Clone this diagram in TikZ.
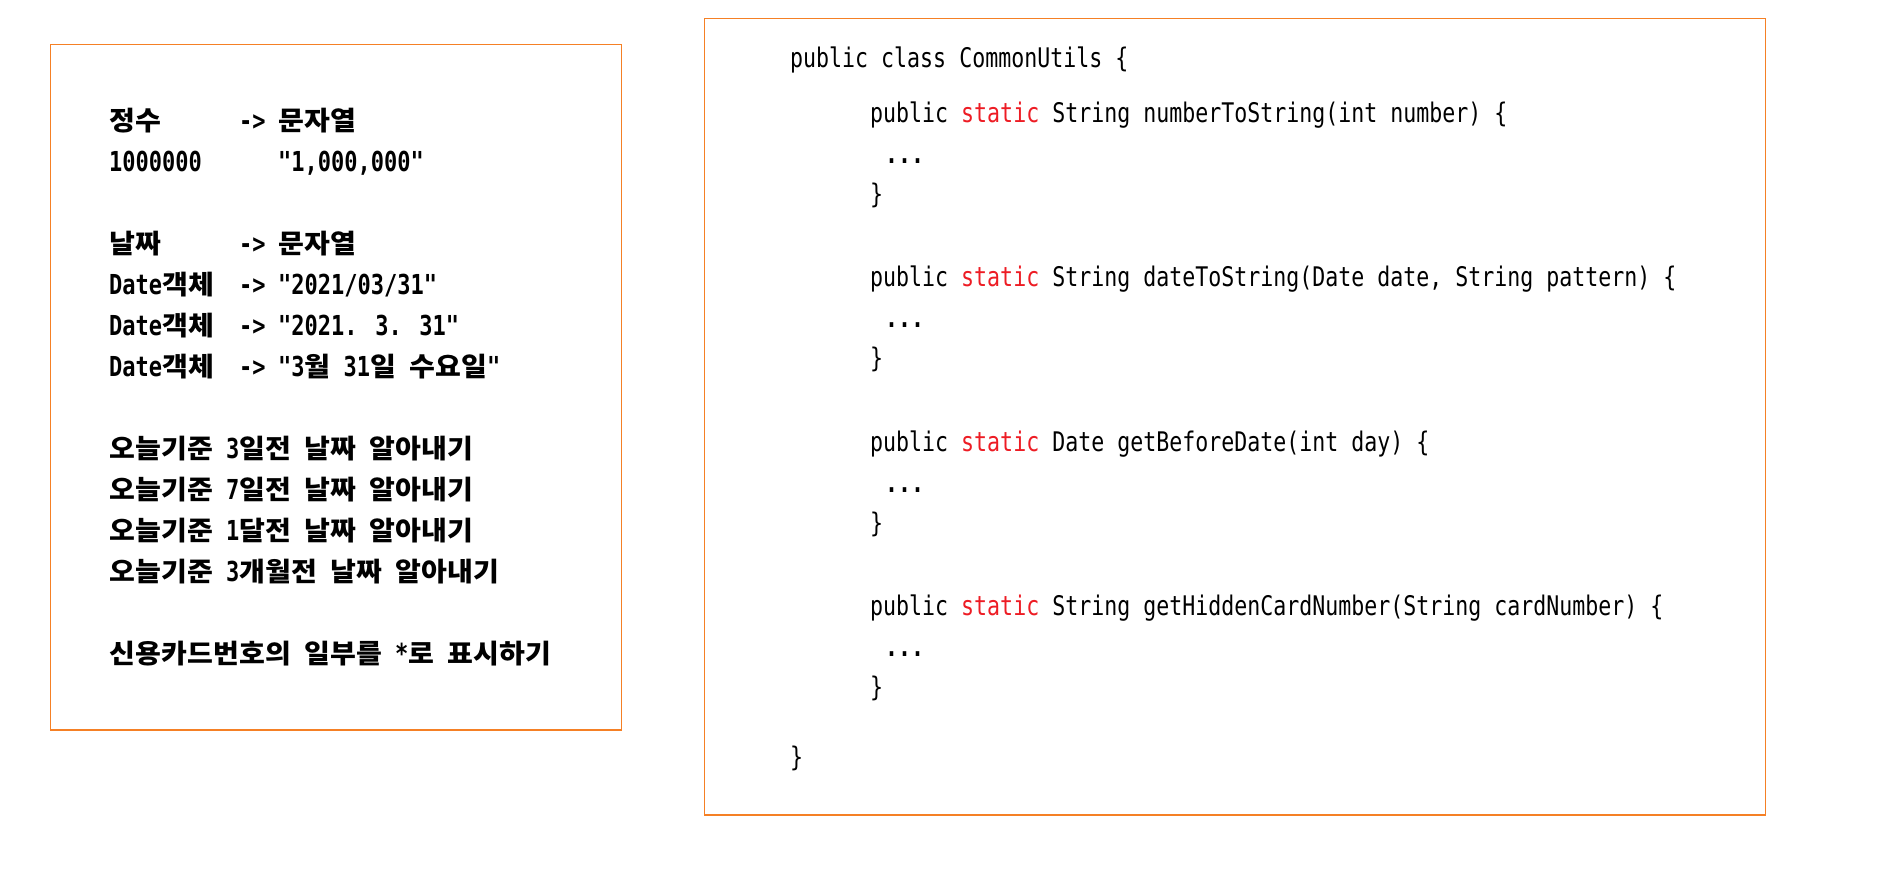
\documentclass[tikz,border=0pt]{standalone}
\usepackage{fontspec}
\usepackage{tikz}
\usetikzlibrary{positioning}

\newfontfamily\krfont[FakeStretch=1.06]{Noto Sans CJK KR}
\newfontfamily\codefont[FakeStretch=0.8]{DejaVu Sans Mono}
\definecolor{boxorange}{RGB}{245,128,37}
\definecolor{kwred}{RGB}{237,28,36}

% every hangul glyph takes two columns of the grid
\def\krloop#1{\ifx#1\relax\else\makebox[26pt][c]{#1}\expandafter\krloop\fi}
\newcommand{\kr}[1]{{\fontsize{26.5}{30}\selectfont\krfont\bfseries\krloop#1\relax}}
\newcommand{\gap}{\hspace*{13pt}}
\newcommand{\cola}[1]{\makebox[130pt][l]{#1}}
\newcommand{\colb}[1]{\makebox[39pt][l]{#1}}
\newcommand{\kw}[1]{\textcolor{kwred}{#1}}

\begin{document}
\begin{tikzpicture}[x=1pt,y=-1pt,
    frame/.style={draw=boxorange,line width=1.2pt},
    memo/.style={anchor=base west,inner sep=0pt,
      font=\fontsize{27.5}{30}\selectfont\codefont\bfseries},
    code/.style={anchor=base west,inner sep=0pt,
      font=\fontsize{27}{30}\selectfont\codefont}]

  \useasboundingbox (0,0) rectangle (1898,868);

  % left box
  \draw[frame] (50.5,44.5) rectangle (621.5,730);

  \node[memo] (intRow)  at (109,130) {\cola{\kr{정수}}\colb{->}\kr{문자열}};
  \node[memo] (intVal)  at (109,171) {\cola{1000000}\colb{}"1,000,000"};
  \node[memo] (dateRow) at (109,253) {\cola{\kr{날짜}}\colb{->}\kr{문자열}};
  \node[memo] (dateA)   at (109,294) {\cola{Date\kr{객체}}\colb{->}"2021/03/31"};
  \node[memo] (dateB)   at (109,335) {\cola{Date\kr{객체}}\colb{->}"2021. 3. 31"};
  \node[memo] (dateC)   at (109,376) {\cola{Date\kr{객체}}\colb{->}"3\kr{월}\gap 31\kr{일}\gap\kr{수요일}"};

  \node[memo] (before3d) at (109,458) {\kr{오늘기준}\gap 3\kr{일전}\gap\kr{날짜}\gap\kr{알아내기}};
  \node[memo] (before7d) at (109,499) {\kr{오늘기준}\gap 7\kr{일전}\gap\kr{날짜}\gap\kr{알아내기}};
  \node[memo] (before1m) at (109,540) {\kr{오늘기준}\gap 1\kr{달전}\gap\kr{날짜}\gap\kr{알아내기}};
  \node[memo] (before3m) at (109,581) {\kr{오늘기준}\gap 3\kr{개월전}\gap\kr{날짜}\gap\kr{알아내기}};

  \node[memo] (cardRow) at (109,663) {\kr{신용카드번호의}\gap\kr{일부를}\gap*\kr{로}\gap\kr{표시하기}};

  % right box
  \draw[frame] (704.5,18.5) rectangle (1765.5,815);

  \node[code] (classHead) at (790,67) {public class CommonUtils \{};

  \node[code] (numHead)  at (870,122) {public \kw{static} String numberToString(int number) \{};
  \node[code] (numBody)  at (885,163) {\bfseries...};
  \node[code] (numEnd)   at (870,203) {\}};

  \node[code] (dateHead) at (870,286) {public \kw{static} String dateToString(Date date, String pattern) \{};
  \node[code] (dateBody) at (885,327) {\bfseries...};
  \node[code] (dateEnd)  at (870,367) {\}};

  \node[code] (beforeHead) at (870,451) {public \kw{static} Date getBeforeDate(int day) \{};
  \node[code] (beforeBody) at (885,492) {\bfseries...};
  \node[code] (beforeEnd)  at (870,532) {\}};

  \node[code] (cardHead) at (870,615) {public \kw{static} String getHiddenCardNumber(String cardNumber) \{};
  \node[code] (cardBody) at (885,656) {\bfseries...};
  \node[code] (cardEnd)  at (870,696) {\}};

  \node[code] (classEnd) at (790,766) {\}};
\end{tikzpicture}
\end{document}
